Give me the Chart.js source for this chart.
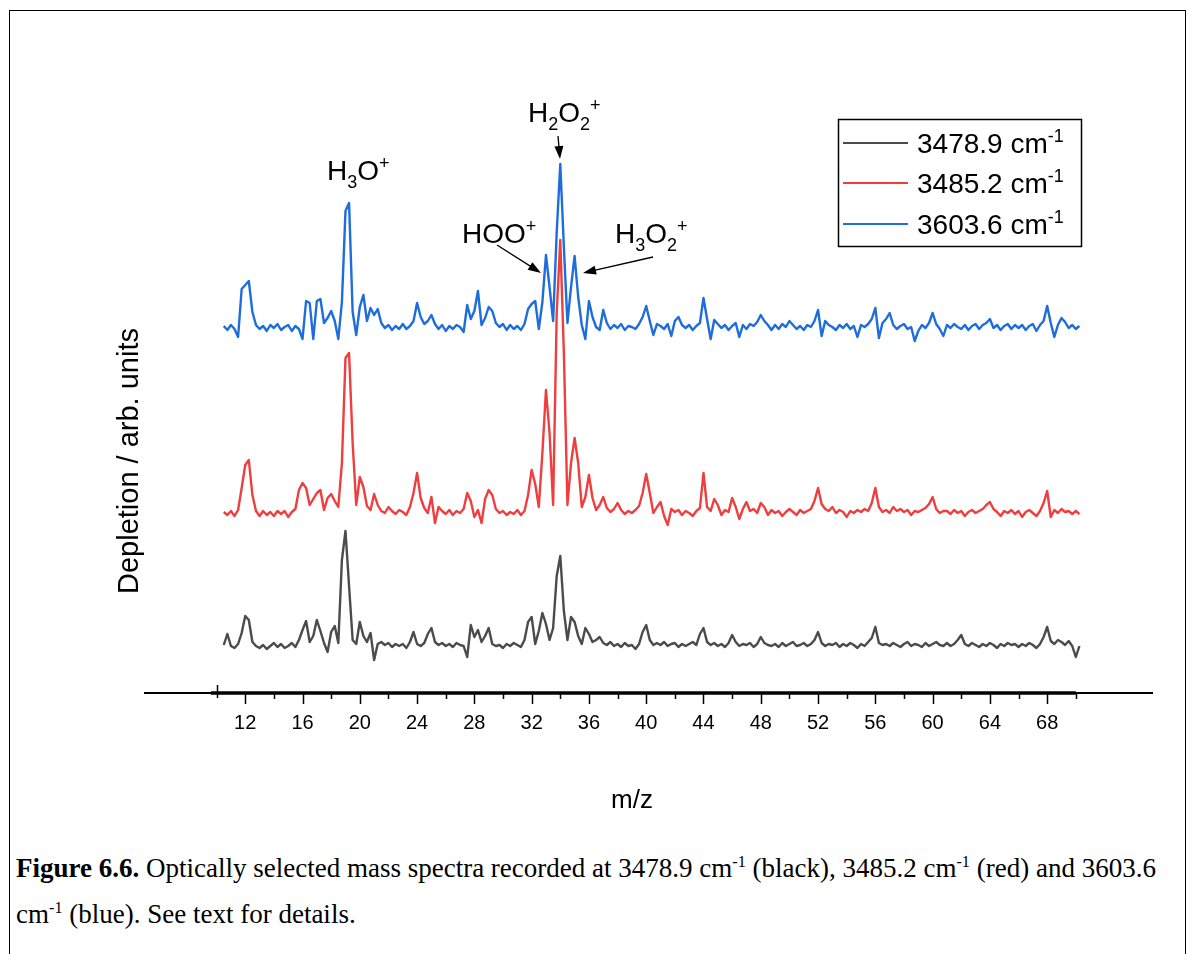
<!DOCTYPE html>
<html>
<head>
<meta charset="utf-8">
<script src="https://cdn.jsdelivr.net/npm/chart.js@4.4.0/dist/chart.umd.min.js"></script>
<style>
  html, body { margin: 0; padding: 0; background: #fff; }
  body { width: 1188px; height: 954px; position: relative; overflow: hidden; }
  #frame { position: absolute; left: 9px; top: 10px; width: 1177px; height: 980px; border: 1px solid #000; box-sizing: border-box; }
  #wrap { position: absolute; left: 0; top: 0; width: 1188px; height: 840px; }
  #caption { position: absolute; left: 16px; top: 845px; white-space: nowrap;
    font-family: "Liberation Serif", "Times New Roman", serif; font-size: 27px; line-height: 46px; color: #000; }
  #caption sup { font-size: 0.6em; line-height: 0; vertical-align: super; }
</style>
</head>
<body>
<div id="frame"></div>
<div id="wrap"><canvas id="spectra" width="1188" height="840"></canvas></div>
<div id="caption"><b>Figure 6.6.</b> Optically selected mass spectra recorded at 3478.9 cm<sup>-1</sup> (black), 3485.2 cm<sup>-1</sup> (red) and 3603.6<br>cm<sup>-1</sup> (blue). See text for details.</div>
<script>
// m/z grid: 10.5 .. 70.25 in steps of 0.25 (240 points)
const mzStart = 10.5;
const mzStep = 0.25;

// series labels (wavenumbers, cm-1)
const seriesLabels = ['3478.9', '3485.2', '3603.6'];

// depletion signal, relative to each trace's own baseline
const blackVals = [
  0.1, 1.2, 0.0, -0.2, 0.2, 1.3,
  3.0, 2.6, 0.4, 0.0, -0.2, 0.1, -0.3, 0.0, 0.3, -0.1, 0.2, -0.2, 0.0, 0.3, -0.1, 0.6,
  1.6, 2.5, 0.4, 1.0, 2.6, 1.5, 0.3, -0.6, 1.4, 2.0, 0.3, 8.6, 11.5, 6.0, 0.6, 0.2,
  2.4, 1.0, 0.4, 1.3, -1.4, 0.2, 0.4, 0.1, 0.3, -0.1, 0.2, 0.0, 0.2, -0.2, 0.4, 1.4,
  0.2, 0.0, 0.3, 1.2, 1.8, 0.4, 0.1, 0.3, 0.0, 0.2, -0.1, 0.3, 0.1, 0.0, -1.1, 2.1,
  0.9, 1.6, 0.4, 1.0, 1.8, 0.2, 0.0, 0.1, -0.2, 0.2, 0.0, 0.3, 0.1, -0.1, 0.6, 2.4,
  2.9, 0.2, 1.5, 3.3, 2.2, 0.6, 1.8, 7.0, 9.0, 3.5, 0.6, 2.9, 2.4, 1.0, 0.2, 1.8,
  1.2, 0.4, 0.6, 0.9, 0.3, 0.1, 0.4, 0.0, 0.2, -0.1, 0.3, 0.0, 0.1, -0.3, 0.2, 1.4,
  2.1, 0.6, 0.1, 0.3, 0.1, 0.4, 0.0, 0.2, 0.3, -0.1, 0.2, 0.0, 0.2, 0.4, 0.1, 1.2,
  1.8, 0.4, 0.1, 0.3, 0.0, 0.2, -0.1, 0.3, 1.1, 0.4, 0.0, 0.2, 0.1, 0.3, -0.1, 0.2,
  0.9, 0.3, 0.1, 0.0, 0.2, -0.1, 0.3, 0.0, 0.2, 0.4, 0.0, 0.1, 0.3, 0.0, 0.2, 0.6,
  1.4, 0.3, 0.0, 0.2, 0.1, 0.3, -0.1, 0.2, 0.0, 0.3, 0.1, -0.2, 0.2, 0.0, 0.4, 0.8,
  1.9, 0.3, 0.1, 0.2, 0.0, 0.3, 0.1, -0.1, 0.2, 0.4, 0.0, 0.2, 0.1, -0.1, 0.3, 0.0,
  0.2, 0.4, 0.1, 0.0, 0.3, 0.0, 0.2, 0.6, 1.1, 0.2, 0.0, 0.3, 0.1, -0.1, 0.2, 0.0,
  0.3, 0.1, -0.2, 0.2, 0.0, 0.3, 0.1, 0.2, -0.1, 0.2, 0.0, 0.3, 0.1, -0.2, 0.2, 0.9,
  1.9, 0.5, 0.2, 0.6, 0.4, 0.1, 0.5, 0.0, -1.1, 0.0
];

const redVals = [
  0.1, -0.2, 0.2, -0.3, 0.3, 2.5,
  4.8, 5.3, 1.8, 0.2, -0.3, 0.2, -0.2, 0.1, -0.3, 0.2, -0.1, 0.2, -0.4, 0.1, 0.4, 2.3,
  3.0, 2.5, 0.8, 1.4, 2.0, 2.3, 0.3, 1.5, 1.9, 1.2, 0.6, 5.0, 15.5, 16.0, 7.0, 0.8,
  3.6, 2.6, 0.7, 0.3, 1.9, 0.8, 0.2, 0.0, 0.6, 0.2, -0.1, 0.3, 0.1, -0.2, 0.6, 2.0,
  4.0, 1.5, 0.5, 0.0, 1.6, -1.0, 0.6, 0.2, -0.1, 0.3, -0.2, 0.2, 0.0, 0.4, 2.0, 1.2,
  -0.4, 0.3, -1.0, 1.4, 2.3, 1.8, 0.4, 0.0, 0.2, -0.2, 0.1, -0.1, 0.3, -0.2, 0.2, 1.8,
  4.3, 2.9, 0.6, 6.0, 12.3, 8.0, 0.8, 20.0, 27.3, 16.0, 0.8, 5.0, 7.5, 5.0, 0.6, 1.6,
  3.8, 1.5, 0.3, 0.8, 1.6, 0.5, 0.1, 0.4, 1.0, 0.3, -0.1, 0.2, 0.0, 0.3, 0.7, 2.0,
  3.9, 2.0, 0.0, 0.6, 1.1, -0.3, -1.2, 0.4, 0.1, 0.3, -0.2, 0.2, 0.0, -0.3, 0.2, 0.5,
  4.0, 0.6, 0.2, 1.4, 0.8, -0.2, 0.3, 0.1, 1.5, 0.6, -0.6, 0.4, 1.1, 0.2, 0.4, 0.0,
  1.0, 0.6, -0.2, 0.3, 0.0, 0.2, -0.3, 0.1, 0.4, 0.1, -0.2, 0.3, 0.0, 0.2, 0.4, 1.2,
  2.5, 0.9, 0.4, 0.2, 0.6, 0.0, 0.3, 0.1, -0.4, 0.2, 0.0, 0.3, 0.1, 0.4, 0.2, 1.0,
  2.5, 0.6, 0.1, 0.3, 0.0, 0.6, 0.2, 0.4, 0.1, 0.3, -0.2, 0.2, 0.1, 0.3, 0.5, 0.9,
  1.6, 0.4, 0.0, 0.2, 0.2, -0.1, 0.3, 0.0, 0.2, -0.3, 0.1, 0.3, 0.0, 0.2, 0.4, 0.8,
  1.1, 0.4, 0.1, -0.3, 0.2, 0.0, 0.3, -0.1, 0.2, -0.4, 0.1, 0.3, 0.0, -0.3, 0.2, 1.0,
  2.2, -0.4, 0.3, 0.0, 0.4, 0.1, 0.2, -0.1, 0.2, -0.1
];

const blueVals = [
  0.1, -0.3, 0.2, -0.2, -1.0, 3.8,
  4.2, 4.6, 1.5, 0.2, -0.2, 0.1, -0.4, 0.2, -0.1, 0.3, -0.3, 0.0, 0.2, -0.4, 0.1, -0.2,
  -1.2, 2.6, 2.4, -1.2, 2.6, 2.8, 0.4, 0.9, 1.6, 0.6, -1.2, 2.5, 11.6, 12.4, 1.5, -0.8,
  2.0, 3.2, 0.6, 1.9, 1.2, 1.8, 0.4, -0.1, 0.2, -0.3, 0.1, -0.2, 0.3, -0.2, 0.1, 0.6,
  2.4, 1.0, 0.3, 0.6, 1.2, 0.3, -0.2, 0.2, -0.4, 0.1, -0.2, 0.2, 0.0, -0.5, 2.2, 0.8,
  1.6, 3.6, 0.2, 0.9, 2.0, 1.6, 0.4, 0.0, 0.3, -0.3, 0.2, -0.2, 0.1, -0.3, 0.3, 1.8,
  2.3, 2.6, -0.2, 2.5, 7.2, 4.0, 0.6, 9.5, 16.3, 8.0, 0.4, 4.0, 7.1, 3.0, 0.2, -1.2,
  2.6, 1.0, 0.0, -0.3, 1.7, 0.4, -0.2, 0.2, -0.1, 0.3, -0.3, 0.1, 0.0, -0.2, 0.3, 1.0,
  2.1, 0.6, -0.8, 0.3, 0.1, -0.2, 0.3, -0.9, 0.6, 1.0, 0.2, -0.1, 0.2, -0.3, 0.1, 0.4,
  2.9, 0.8, -1.2, 0.7, 0.3, -0.1, 0.2, -0.3, 0.1, 0.4, -1.0, 0.2, -0.2, 0.3, 0.1, 0.5,
  1.2, 0.6, 0.2, -0.3, 0.2, -0.2, 0.3, 0.0, 0.6, 0.2, -0.2, 0.1, -0.3, 0.2, 0.0, 0.6,
  1.7, -0.9, 0.6, 0.2, 0.0, -0.3, 0.2, -0.1, 0.3, -0.2, 0.1, -1.0, 0.2, 0.0, 0.3, 0.8,
  1.9, -1.1, 0.4, 0.8, 1.4, 0.2, -0.2, 0.1, 0.3, -0.2, 0.0, -1.4, -0.4, 0.2, -0.1, 0.4,
  1.4, 0.3, -0.2, -0.9, 0.2, -0.1, 0.3, 0.0, -0.2, 0.2, -0.3, 0.1, 0.3, -0.2, 0.2, 0.4,
  0.8, -0.1, 0.2, -0.3, 0.1, 0.3, -0.2, 0.2, -0.1, 0.2, -0.3, 0.1, 0.3, -0.4, 0.2, 0.6,
  2.1, 0.4, -1.0, 0.2, 0.9, 0.5, -0.1, 0.2, -0.2, 0.1
];

// vertical offsets of the stacked traces
const blackOffset = 4.7;
const redOffset = 18.0;
const blueOffset = 36.6;

// x axis ticks
const majorTicks = [12, 16, 20, 24, 28, 32, 36, 40, 44, 48, 52, 56, 60, 64, 68];
const minorTicks = [14, 18, 22, 26, 30, 34, 38, 42, 46, 50, 54, 58, 62, 66, 70];

const colors = ['#4b4b4b', '#f03e3f', '#1d6ddc'];
const FONT = '"Liberation Sans", Arial, sans-serif';

const mz = blackVals.map((_, i) => +(mzStart + i * mzStep).toFixed(2));
const toPoints = (vals, off) => vals.map((v, i) => ({ x: mz[i], y: v + off }));

// text with sub/superscripts
function richText(ctx, parts, x, y, size) {
  let cx = x;
  ctx.textAlign = 'left';
  ctx.textBaseline = 'alphabetic';
  parts.forEach(p => {
    const small = p.sub || p.sup;
    const s = small ? Math.round(size * 0.64) : size;
    ctx.font = s + 'px ' + FONT;
    const dy = p.sub ? size * 0.28 : (p.sup ? -size * 0.38 : 0);
    ctx.fillText(p.t, cx, y + dy);
    cx += ctx.measureText(p.t).width;
  });
}

function arrow(ctx, x1, y1, x2, y2) {
  const a = Math.atan2(y2 - y1, x2 - x1);
  const len = 13, w = 4.5;
  ctx.lineWidth = 1.3;
  ctx.beginPath();
  ctx.moveTo(x1, y1);
  ctx.lineTo(x2 - Math.cos(a) * len * 0.8, y2 - Math.sin(a) * len * 0.8);
  ctx.stroke();
  ctx.beginPath();
  ctx.moveTo(x2, y2);
  ctx.lineTo(x2 - Math.cos(a) * len - Math.sin(a) * w, y2 - Math.sin(a) * len + Math.cos(a) * w);
  ctx.lineTo(x2 - Math.cos(a) * len + Math.sin(a) * w, y2 - Math.sin(a) * len - Math.cos(a) * w);
  ctx.closePath();
  ctx.fill();
}

const overlay = {
  id: 'overlay',
  afterDraw(chart) {
    const { ctx, chartArea } = chart;
    const x = chart.scales.x;
    const base = chartArea.bottom;
    ctx.save();
    ctx.strokeStyle = '#000';
    ctx.fillStyle = '#000';

    // thick part of the axis
    ctx.lineWidth = 3.5;
    ctx.beginPath();
    ctx.moveTo(x.getPixelForValue(9.6), base);
    ctx.lineTo(x.getPixelForValue(70), base);
    ctx.stroke();

    // tick marks
    ctx.lineWidth = 1.5;
    majorTicks.forEach(v => {
      const px = Math.round(x.getPixelForValue(v)) + 0.5;
      ctx.beginPath(); ctx.moveTo(px, base); ctx.lineTo(px, base + 11); ctx.stroke();
    });
    minorTicks.forEach(v => {
      const px = Math.round(x.getPixelForValue(v)) + 0.5;
      ctx.beginPath(); ctx.moveTo(px, base); ctx.lineTo(px, base + 6); ctx.stroke();
    });
    const p10 = Math.round(x.getPixelForValue(10)) + 0.5;
    ctx.beginPath(); ctx.moveTo(p10, base - 8); ctx.lineTo(p10, base + 5); ctx.stroke();

    // axis titles
    ctx.font = '26px ' + FONT;
    ctx.textAlign = 'center';
    ctx.textBaseline = 'middle';
    ctx.fillText('m/z', 632, 801);
    ctx.save();
    ctx.translate(130, 461);
    ctx.rotate(-Math.PI / 2);
    ctx.font = '29px ' + FONT;
    ctx.fillText('Depletion / arb. units', 0, 0);
    ctx.restore();

    // peak labels
    richText(ctx, [{ t: 'H' }, { t: '3', sub: true }, { t: 'O' }, { t: '+', sup: true }], 327, 180, 28);
    richText(ctx, [{ t: 'H' }, { t: '2', sub: true }, { t: 'O' }, { t: '2', sub: true }, { t: '+', sup: true }], 528, 122, 28);
    richText(ctx, [{ t: 'HOO' }, { t: '+', sup: true }], 462, 243, 28);
    richText(ctx, [{ t: 'H' }, { t: '3', sub: true }, { t: 'O' }, { t: '2', sub: true }, { t: '+', sup: true }], 615, 243, 28);
    arrow(ctx, 558, 136, 560, 159);
    arrow(ctx, 497, 245, 541, 273);
    arrow(ctx, 653, 257, 583, 273);

    // legend
    ctx.lineWidth = 1.5;
    ctx.strokeRect(838.5, 119.5, 243, 127);
    const rows = [153, 193, 234];
    seriesLabels.forEach((lab, i) => {
      ctx.strokeStyle = colors[i];
      ctx.lineWidth = 2;
      ctx.beginPath();
      ctx.moveTo(843, rows[i] - 10);
      ctx.lineTo(908, rows[i] - 10);
      ctx.stroke();
      ctx.fillStyle = '#000';
      richText(ctx, [{ t: lab + ' cm' }, { t: '-1', sup: true }], 917, rows[i], 28);
    });
    ctx.restore();
  }
};

new Chart(document.getElementById('spectra'), {
  type: 'line',
  data: {
    datasets: [
      { label: seriesLabels[0], data: toPoints(blackVals, blackOffset), borderColor: colors[0] },
      { label: seriesLabels[1], data: toPoints(redVals, redOffset), borderColor: colors[1] },
      { label: seriesLabels[2], data: toPoints(blueVals, blueOffset), borderColor: colors[2] }
    ]
  },
  options: {
    responsive: false,
    animation: false,
    devicePixelRatio: 1,
    layout: { padding: { top: 93, right: 36, left: 0, bottom: 0 } },
    elements: {
      line: { borderWidth: 2.4, tension: 0, borderJoinStyle: 'round' },
      point: { radius: 0 }
    },
    plugins: { legend: { display: false }, tooltip: { enabled: false } },
    scales: {
      x: {
        type: 'linear',
        min: 5,
        max: 75.32,
        afterFit: s => { s.height = 147; },
        afterBuildTicks: s => { s.ticks = majorTicks.map(v => ({ value: v })); },
        grid: { display: false, drawTicks: false },
        border: { display: true, color: '#000', width: 2 },
        ticks: { color: '#000', padding: 18, font: { size: 20, family: FONT }, maxRotation: 0, autoSkip: false,
          callback: v => String(v) }
      },
      y: {
        min: 0,
        max: 60,
        afterFit: s => { s.width = 145; },
        grid: { display: false },
        border: { display: false },
        ticks: { display: false }
      }
    }
  },
  plugins: [overlay]
});
</script>
</body>
</html>
